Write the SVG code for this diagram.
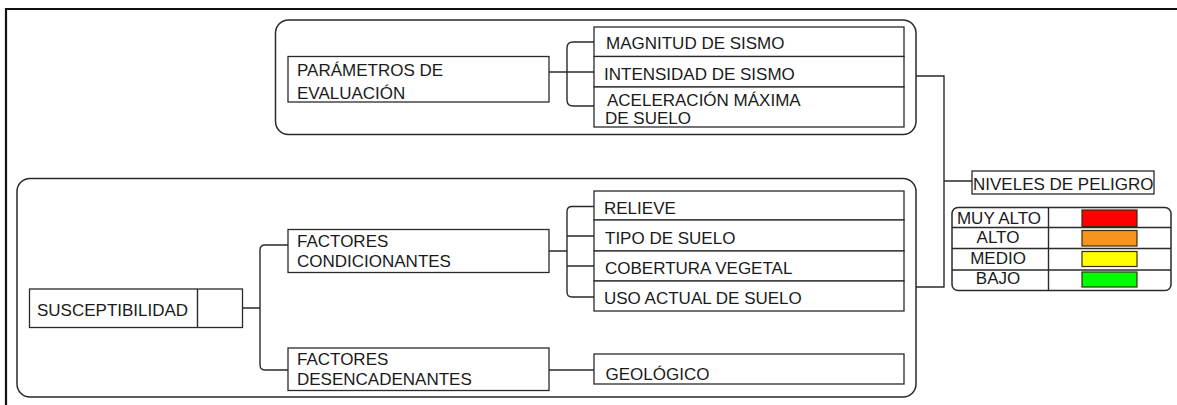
<svg xmlns="http://www.w3.org/2000/svg" width="1177" height="405" viewBox="0 0 1177 405">
<style>
text{font-family:"Liberation Sans",Arial,sans-serif;font-size:17px;fill:#1a1a1a}
.grp{fill:none;stroke:#2a2a2a;stroke-width:1.5}
.box{fill:#fff;stroke:#2a2a2a;stroke-width:1.3}
.ln{fill:none;stroke:#2a2a2a;stroke-width:1.4}
.sw{stroke:#3a2a10;stroke-width:1.2}
.mid{text-anchor:middle}
</style>
<rect width="1177" height="405" fill="#fff"/>
<path d="M6,405 V9 H1177" fill="none" stroke="#111" stroke-width="2.2"/>

<g id="group-peligro"><rect class="grp" x="275.5" y="20" width="640.5" height="114.5" rx="13"/></g>
<g id="group-susceptibilidad"><rect class="grp" x="17" y="178.5" width="899" height="218.5" rx="13"/></g>

<g id="connectors">
<path class="ln" d="M549,72 H594 M594,42 H573 Q567,42 567,48 V100 Q567,106 573,106 H594"/>
<path class="ln" d="M243,308 H260 M288,245 H265 Q260,245 260,250 V365 Q260,370 265,370 H288"/>
<path class="ln" d="M549,251 H567 M594,206.5 H572 Q567,206.5 567,211.5 V292 Q567,297 572,297 H594 M567,236 H594 M567,266 H594"/>
<path class="ln" d="M549,370 H594"/>
<path class="ln" d="M916,76 H944 V287 H916 M944,181 H972"/>
</g>

<g id="node-parametros"><rect class="box" x="288" y="56.5" width="261" height="45.5"/><text x="297" y="76">PARÁMETROS DE</text><text x="297" y="99">EVALUACIÓN</text></g>
<g id="node-magnitud"><rect class="box" x="594" y="27" width="310" height="29.5"/><text x="606" y="48.5">MAGNITUD DE SISMO</text></g>
<g id="node-intensidad"><rect class="box" x="594" y="56.5" width="310" height="30.5"/><text x="604" y="80">INTENSIDAD DE SISMO</text></g>
<g id="node-aceleracion"><rect class="box" x="594" y="87" width="310" height="40"/><text x="607" y="105.5">ACELERACIÓN MÁXIMA</text><text x="605" y="124">DE SUELO</text></g>

<g id="node-susceptibilidad"><rect class="box" x="29.5" y="289" width="213" height="38.5"/><line class="ln" x1="197.5" y1="289" x2="197.5" y2="327.5"/><text x="37" y="315.5">SUSCEPTIBILIDAD</text></g>
<g id="node-condicionantes"><rect class="box" x="288" y="229.5" width="261" height="43"/><text x="297" y="246.5">FACTORES</text><text x="297" y="266.5">CONDICIONANTES</text></g>
<g id="node-desencadenantes"><rect class="box" x="288" y="348" width="261" height="42.5"/><text x="297" y="365">FACTORES</text><text x="297" y="385">DESENCADENANTES</text></g>
<g id="node-relieve"><rect class="box" x="594" y="191" width="310" height="29"/><text x="604" y="214">RELIEVE</text></g>
<g id="node-tipo"><rect class="box" x="594" y="220" width="310" height="31"/><text x="605" y="244">TIPO DE SUELO</text></g>
<g id="node-cobertura"><rect class="box" x="594" y="251" width="310" height="30"/><text x="605" y="274">COBERTURA VEGETAL</text></g>
<g id="node-uso"><rect class="box" x="594" y="281" width="310" height="30"/><text x="604" y="304">USO ACTUAL DE SUELO</text></g>
<g id="node-geologico"><rect class="box" x="594" y="354" width="310" height="30"/><text x="605.5" y="380">GEOLÓGICO</text></g>

<g id="node-niveles"><rect class="box" x="972" y="171" width="182" height="23"/><text x="973" y="189.5">NIVELES DE PELIGRO</text></g>

<g id="legend">
<rect class="grp" x="952" y="207.5" width="219" height="83" rx="6"/>
<path class="ln" d="M952,227.5 H1171 M952,248.5 H1171 M952,270 H1171 M1048.5,207.5 V290.5"/>
<rect class="sw" x="1082" y="210" width="55" height="16.5" fill="#ff0000"/>
<rect class="sw" x="1082" y="230.5" width="55" height="15.5" fill="#f7941d"/>
<rect class="sw" x="1082" y="251.5" width="55" height="15" fill="#ffff00"/>
<rect class="sw" x="1082" y="272" width="55" height="15" fill="#00ff00"/>
<text class="mid" x="999" y="223.5">MUY ALTO</text>
<text class="mid" x="998" y="243">ALTO</text>
<text class="mid" x="998" y="263.5">MEDIO</text>
<text class="mid" x="998" y="284">BAJO</text>
</g>
</svg>
